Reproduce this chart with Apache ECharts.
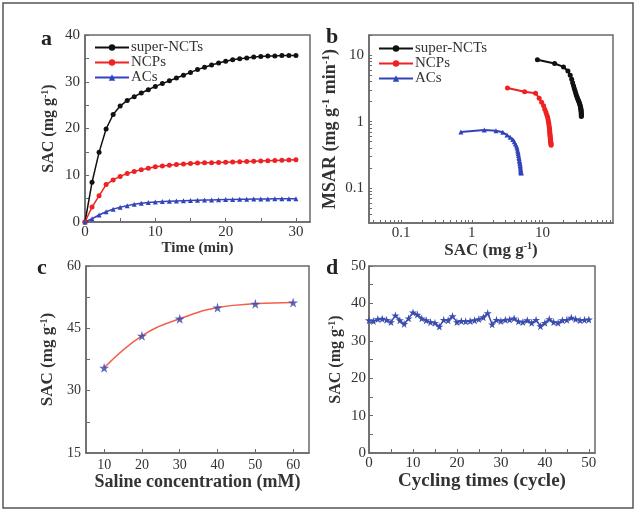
<!DOCTYPE html>
<html>
<head>
<meta charset="utf-8">
<script src="https://cdn.jsdelivr.net/npm/echarts@6/dist/echarts.min.js"></script>
<style>
  html, body { margin: 0; padding: 0; background: #fff; }
  #chart { width: 637px; height: 513px; }
</style>
</head>
<body>
<div id="chart"></div>
<script>
// panel a: SAC vs time
const timeMin = [0, 1, 2, 3, 4, 5, 6, 7, 8, 9, 10, 11, 12, 13, 14, 15, 16, 17, 18, 19, 20,
  21, 22, 23, 24, 25, 26, 27, 28, 29, 30]
const sacSuperNCTs = [0, 8.5, 14.9, 19.9, 23.0, 24.8, 26.0, 26.8, 27.6, 28.3, 29.0, 29.6, 30.2, 30.8,
  31.4, 32.0, 32.6, 33.1, 33.6, 34.0, 34.4, 34.7, 34.9, 35.1, 35.3, 35.4, 35.5, 35.5, 35.6, 35.6, 35.6]
const sacNCPs = [0, 3.2, 5.6, 8.0, 9.0, 9.75, 10.4, 10.8, 11.2, 11.5, 11.8, 12.0, 12.15, 12.3, 12.4,
  12.5, 12.6, 12.65, 12.7, 12.75, 12.8, 12.85, 12.9, 12.95, 13.0, 13.05, 13.1, 13.15, 13.2, 13.25, 13.3]
const sacACs = [0, 0.7, 1.5, 2.2, 2.75, 3.15, 3.5, 3.8, 4.0, 4.15, 4.3, 4.38, 4.45, 4.5, 4.55, 4.6,
  4.64, 4.68, 4.72, 4.76, 4.8, 4.83, 4.86, 4.88, 4.9, 4.92, 4.94, 4.96, 4.98, 5.0, 5.0]

// panel b: MSAR (t = 1..30), plotted against SAC of the same minute
const msarSuperNCTs = [8.5, 7.45, 6.63, 5.75, 4.96, 4.33, 3.83, 3.45, 3.14, 2.9, 2.69, 2.52, 2.37,
  2.24, 2.13, 2.04, 1.95, 1.87, 1.79, 1.72, 1.65, 1.59, 1.53, 1.47, 1.42, 1.37, 1.31, 1.27, 1.23, 1.19]
const msarNCPs = [3.2, 2.8, 2.67, 2.25, 1.95, 1.73, 1.54, 1.4, 1.28, 1.18, 1.09, 1.01, 0.95, 0.89,
  0.83, 0.79, 0.74, 0.71, 0.67, 0.64, 0.61, 0.59, 0.56, 0.54, 0.52, 0.5, 0.49, 0.47, 0.46, 0.44]
const msarACs = [0.7, 0.75, 0.73, 0.69, 0.63, 0.58, 0.54, 0.5, 0.46, 0.43, 0.4, 0.37, 0.35, 0.33,
  0.31, 0.29, 0.28, 0.26, 0.25, 0.24, 0.23, 0.22, 0.21, 0.2, 0.19, 0.18, 0.18, 0.17, 0.17, 0.17]

// panel c: SAC vs saline concentration
const salineMM = [10, 20, 30, 40, 50, 60]
const sacSaline = [35.5, 43.2, 47.3, 50.0, 50.9, 51.2]

// panel d: cycling stability
const cycles = [0, 1, 2, 3, 4, 5, 6, 7, 8, 9, 10, 11, 12, 13, 14, 15, 16, 17, 18, 19, 20, 21, 22, 23,
  24, 25, 26, 27, 28, 29, 30, 31, 32, 33, 34, 35, 36, 37, 38, 39, 40, 41, 42, 43, 44, 45, 46, 47, 48, 49, 50]
const sacCycles = [35.5, 35.3, 35.8, 35.9, 35.6, 35.0, 36.8, 35.5, 34.5, 36.0, 37.6, 37.0, 36.0, 35.5,
  35.0, 34.8, 33.8, 35.6, 35.5, 36.6, 35.0, 35.3, 35.2, 35.3, 35.5, 35.8, 36.3, 37.4, 34.4, 35.6, 35.3,
  35.6, 35.7, 36.0, 35.2, 35.0, 35.5, 34.8, 35.6, 33.9, 34.8, 35.8, 35.0, 34.8, 35.5, 35.6, 36.2, 35.8,
  35.5, 35.6, 35.7]

// tick positions
const logTicks = [0.04, 0.05, 0.06, 0.07, 0.08, 0.09, 0.1, 0.2, 0.3, 0.4, 0.5, 0.6, 0.7, 0.8, 0.9, 1,
  2, 3, 4, 5, 6, 7, 8, 9, 10, 20, 30, 40, 50, 60, 70, 80, 90]

const serif = '"Liberation Serif", "Times New Roman", serif'
const axisColor = '#6a6a6a'
const textColor = '#333'
const starPath = 'path://M50,0 L61,35 L98,35 L68,57 L79,91 L50,70 L21,91 L32,57 L2,35 L39,35 Z'

function nameStyle(size) {
  return {
    fontFamily: serif,
    fontWeight: 'bold',
    fontSize: size,
    color: textColor,
    rich: {
      sup: { fontFamily: serif, fontWeight: 'bold', fontSize: Math.round(size * 0.6), color: textColor,
        verticalAlign: 'bottom', padding: [0, 0, Math.round(size * 0.45), 0] }
    }
  }
}

function tick(values, len) {
  return { show: true, inside: true, length: len || 4, lineStyle: { color: axisColor }, customValues: values }
}

function label(size, extra) {
  return Object.assign({ fontFamily: serif, fontSize: size, color: textColor, margin: 5 }, extra)
}

function axis(opt) {
  return Object.assign({
    nameLocation: 'middle',
    axisLine: { show: true, lineStyle: { color: axisColor, width: 1.5 } },
    splitLine: { show: false }
  }, opt)
}

function logLabel(v) {
  const l = Math.log10(v)
  if (Math.abs(l - Math.round(l)) > 1e-6 || v < 0.09 || v > 11) return ''
  return String(+v.toPrecision(3))
}

const pairs = (xs, ys) => xs.map((x, i) => [x, ys[i]])

const colors = { sup: '#111111', ncp: '#ee2222', ac: '#3344bb' }

const chart = echarts.init(document.getElementById('chart'))
const gridBox = { show: true, borderColor: axisColor, borderWidth: 1.5 }
const legendBase = {
  orient: 'vertical', itemWidth: 34, itemHeight: 8, itemGap: 0,
  data: ['super-NCTs', 'NCPs', 'ACs'],
  textStyle: { fontFamily: serif, fontSize: 15, color: textColor, padding: [0, 0, 0, -3] }
}

chart.setOption({
  backgroundColor: '#fff',
  animation: false,
  grid: [
    Object.assign({ left: 85, top: 35, width: 225, height: 187 }, gridBox),
    Object.assign({ left: 369, top: 35, width: 244, height: 188 }, gridBox),
    Object.assign({ left: 86, top: 266, width: 223, height: 187 }, gridBox),
    Object.assign({ left: 369, top: 266, width: 226, height: 187 }, gridBox)
  ],
  legend: [
    Object.assign({ left: 89, top: 35 }, legendBase),
    Object.assign({ left: 373, top: 36 }, legendBase)
  ],
  xAxis: [
    axis({
      gridIndex: 0, type: 'value', min: 0, max: 32, name: 'Time (min)', nameGap: 16, nameTextStyle: nameStyle(15),
      axisTick: tick([0, 5, 10, 15, 20, 25, 30]),
      axisLabel: label(15, { customValues: [0, 10, 20, 30], margin: 3 })
    }),
    axis({
      gridIndex: 1, type: 'log', min: 0.035, max: 100, name: 'SAC (mg g{sup|-1})', nameGap: 18, nameTextStyle: nameStyle(17),
      axisTick: tick(logTicks, 3),
      axisLabel: label(15, { formatter: logLabel, margin: 3 })
    }),
    axis({
      gridIndex: 2, type: 'value', min: 5.2, max: 64.2, name: 'Saline concentration (mM)', nameGap: 19, nameTextStyle: nameStyle(18),
      axisTick: tick(salineMM),
      axisLabel: label(14, { customValues: salineMM })
    }),
    axis({
      gridIndex: 3, type: 'value', min: 0, max: 51.4, name: 'Cycling times (cycle)', nameGap: 19, nameTextStyle: nameStyle(19),
      axisTick: tick([0, 5, 10, 15, 20, 25, 30, 35, 40, 45, 50]),
      axisLabel: label(15, { customValues: [0, 10, 20, 30, 40, 50], margin: 3 })
    })
  ],
  yAxis: [
    axis({
      gridIndex: 0, type: 'value', min: 0, max: 40, name: 'SAC (mg g{sup|-1})', nameGap: 28, nameTextStyle: nameStyle(16),
      axisTick: tick([0, 5, 10, 15, 20, 25, 30, 35, 40]),
      axisLabel: label(15, { customValues: [0, 10, 20, 30, 40] })
    }),
    axis({
      gridIndex: 1, type: 'log', min: 0.03, max: 20, name: 'MSAR (mg g{sup|-1} min{sup|-1})', nameGap: 29, nameTextStyle: nameStyle(18),
      axisTick: tick(logTicks, 3),
      axisLabel: label(15, { formatter: logLabel })
    }),
    axis({
      gridIndex: 2, type: 'value', min: 15, max: 60, name: 'SAC (mg g{sup|-1})', nameGap: 29, nameTextStyle: nameStyle(17),
      axisTick: tick([15, 22.5, 30, 37.5, 45, 52.5, 60]),
      axisLabel: label(14, { customValues: [15, 30, 45, 60] })
    }),
    axis({
      gridIndex: 3, type: 'value', min: 0, max: 50, name: 'SAC (mg g{sup|-1})', nameGap: 25, nameTextStyle: nameStyle(16),
      axisTick: tick([0, 5, 10, 15, 20, 25, 30, 35, 40, 45, 50]),
      axisLabel: label(15, { customValues: [0, 10, 20, 30, 40, 50], margin: 3 })
    })
  ],
  series: [
    { name: 'super-NCTs', type: 'line', xAxisIndex: 0, yAxisIndex: 0, data: pairs(timeMin, sacSuperNCTs),
      symbol: 'circle', symbolSize: 5, color: colors.sup, lineStyle: { width: 1.5 } },
    { name: 'NCPs', type: 'line', xAxisIndex: 0, yAxisIndex: 0, data: pairs(timeMin, sacNCPs),
      symbol: 'circle', symbolSize: 5, color: colors.ncp, lineStyle: { width: 1.5 } },
    { name: 'ACs', type: 'line', xAxisIndex: 0, yAxisIndex: 0, data: pairs(timeMin, sacACs),
      symbol: 'triangle', symbolSize: 5, color: colors.ac, lineStyle: { width: 1.5 } },

    { name: 'super-NCTs', type: 'line', xAxisIndex: 1, yAxisIndex: 1, data: pairs(sacSuperNCTs.slice(1), msarSuperNCTs),
      symbol: 'circle', symbolSize: 5, color: colors.sup, lineStyle: { width: 2 } },
    { name: 'NCPs', type: 'line', xAxisIndex: 1, yAxisIndex: 1, data: pairs(sacNCPs.slice(1), msarNCPs),
      symbol: 'circle', symbolSize: 5, color: colors.ncp, lineStyle: { width: 2 } },
    { name: 'ACs', type: 'line', xAxisIndex: 1, yAxisIndex: 1, data: pairs(sacACs.slice(1), msarACs),
      symbol: 'triangle', symbolSize: 5, color: colors.ac, lineStyle: { width: 2 } },

    { type: 'line', xAxisIndex: 2, yAxisIndex: 2, data: pairs(salineMM, sacSaline), smooth: 0.45,
      symbol: 'none', color: '#f0604c', lineStyle: { width: 1.5 }, z: 2 },
    { type: 'scatter', xAxisIndex: 2, yAxisIndex: 2, data: pairs(salineMM, sacSaline),
      symbol: starPath, symbolSize: 10, color: '#3344aa', z: 3 },

    { type: 'line', xAxisIndex: 3, yAxisIndex: 3, data: pairs(cycles, sacCycles),
      symbol: starPath, symbolSize: 8, color: '#3a4cae', lineStyle: { width: 1.5 } }
  ],
  graphic: [
    { type: 'rect', shape: { x: 3, y: 3, width: 630, height: 505 }, style: { fill: 'none', stroke: '#555', lineWidth: 1.5 } },
    { type: 'text', left: 41, top: 28, style: { text: 'a', font: 'bold 22px ' + serif, fill: '#222' } },
    { type: 'text', left: 326, top: 26, style: { text: 'b', font: 'bold 22px ' + serif, fill: '#222' } },
    { type: 'text', left: 37, top: 257, style: { text: 'c', font: 'bold 22px ' + serif, fill: '#222' } },
    { type: 'text', left: 326, top: 257, style: { text: 'd', font: 'bold 22px ' + serif, fill: '#222' } }
  ]
})
</script>
</body>
</html>
